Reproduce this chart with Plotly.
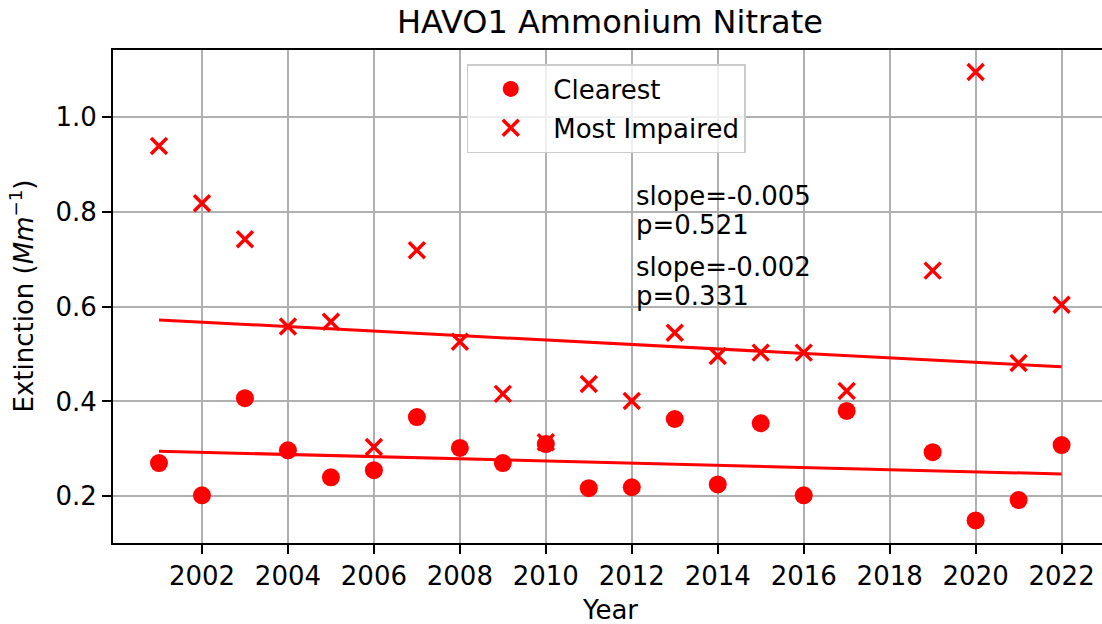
import plotly.graph_objects as go

# years with data (no 2018)
years = [2001, 2002, 2003, 2004, 2005, 2006, 2007, 2008, 2009, 2010, 2011,
         2012, 2013, 2014, 2015, 2016, 2017, 2019, 2020, 2021, 2022]

clearest = [0.270, 0.202, 0.407, 0.297, 0.240, 0.255, 0.367, 0.302, 0.270, 0.310, 0.217,
            0.219, 0.363, 0.225, 0.354, 0.202, 0.380, 0.293, 0.149, 0.192, 0.308]

most_impaired = [0.939, 0.818, 0.742, 0.558, 0.568, 0.304, 0.719, 0.526, 0.416, 0.314, 0.437,
                 0.401, 0.545, 0.496, 0.503, 0.503, 0.422, 0.676, 1.095, 0.481, 0.604]

# trend line end points
trend_x = [2001, 2022]
trend_clearest = [0.295, 0.247]
trend_impaired = [0.572, 0.473]

x_ticks = list(range(2002, 2023, 2))
y_ticks = [0.2, 0.4, 0.6, 0.8, 1.0]

stats_text = ["slope=-0.005", "p=0.521", "slope=-0.002", "p=0.331"]
stats_y = [0.833, 0.772, 0.683, 0.622]

FONT = "DejaVu Sans"
RED = "#ff0000"

fig = go.Figure()

fig.add_trace(go.Scatter(
    x=years, y=clearest, mode="markers", name="Clearest",
    legendgroup="c",
    marker=dict(symbol="circle", size=18, color=RED, line=dict(width=0)),
))
fig.add_trace(go.Scatter(
    x=years, y=most_impaired, mode="markers", name="Most Impaired",
    legendgroup="m",
    marker=dict(symbol="x-thin", size=16, color=RED, line=dict(color=RED, width=3.5)),
))
fig.add_trace(go.Scatter(
    x=trend_x, y=trend_impaired, mode="lines", showlegend=False,
    line=dict(color=RED, width=3),
))
fig.add_trace(go.Scatter(
    x=trend_x, y=trend_clearest, mode="lines", showlegend=False,
    line=dict(color=RED, width=3),
))

for txt, yy in zip(stats_text, stats_y):
    fig.add_annotation(
        x=2012.09, y=yy, xref="x", yref="y", text=txt, showarrow=False,
        xanchor="left", yanchor="middle", xshift=-2,
        font=dict(family=FONT, size=26, color="black"),
    )

# axis titles placed by hand, like matplotlib does
fig.add_annotation(
    x=0.5025, y=-0.136, xref="paper", yref="paper", text="Year", showarrow=False,
    xanchor="center", yanchor="middle", font=dict(family=FONT, size=26, color="black"),
)
fig.add_annotation(
    x=-0.092, y=0.50, xref="paper", yref="paper",
    text="Extinction (<i>Mm</i><sup>\u22121</sup>)", showarrow=False, textangle=-90,
    xanchor="center", yanchor="middle", font=dict(family=FONT, size=26, color="black"),
)

fig.update_layout(
    width=1102, height=624,
    margin=dict(l=113, r=0, t=50, b=81),
    paper_bgcolor="white", plot_bgcolor="white",
    font=dict(family=FONT, size=26, color="black"),
    title=dict(text="HAVO1 Ammonium Nitrate", x=0.5535, xanchor="center",
               y=1 - 22 / 624, yanchor="middle", font=dict(family=FONT, size=32, color="black")),
    showlegend=True,
    legend=dict(
        x=0.3577, y=0.9716, xanchor="left", yanchor="top",
        bgcolor="rgba(255,255,255,0.8)", bordercolor="#cccccc", borderwidth=1.5,
        font=dict(family=FONT, size=26, color="black"),
        itemwidth=75, tracegroupgap=2,
    ),
    xaxis=dict(
        range=[1999.93, 2022.94], tickvals=x_ticks, ticks="outside", ticklen=9,
        tickwidth=2, tickcolor="black", showline=True, linecolor="black", linewidth=2,
        mirror=True, showgrid=True, gridcolor="#b0b0b0", gridwidth=1.5, zeroline=False,
        tickfont=dict(family=FONT, size=26, color="black"),
    ),
    yaxis=dict(
        range=[0.1014, 1.1414], tickvals=y_ticks, tickformat=".1f", ticks="outside",
        ticklen=9, tickwidth=2, tickcolor="black", showline=True, linecolor="black",
        linewidth=2, showgrid=True, gridcolor="#b0b0b0", gridwidth=1.5, zeroline=False,
        tickfont=dict(family=FONT, size=26, color="black"),
    ),
)

# drop the default page margin so the figure sits at the window corner
fig.write_html("out.html", config={"displayModeBar": False},
               post_script="document.body.style.margin='0';")
